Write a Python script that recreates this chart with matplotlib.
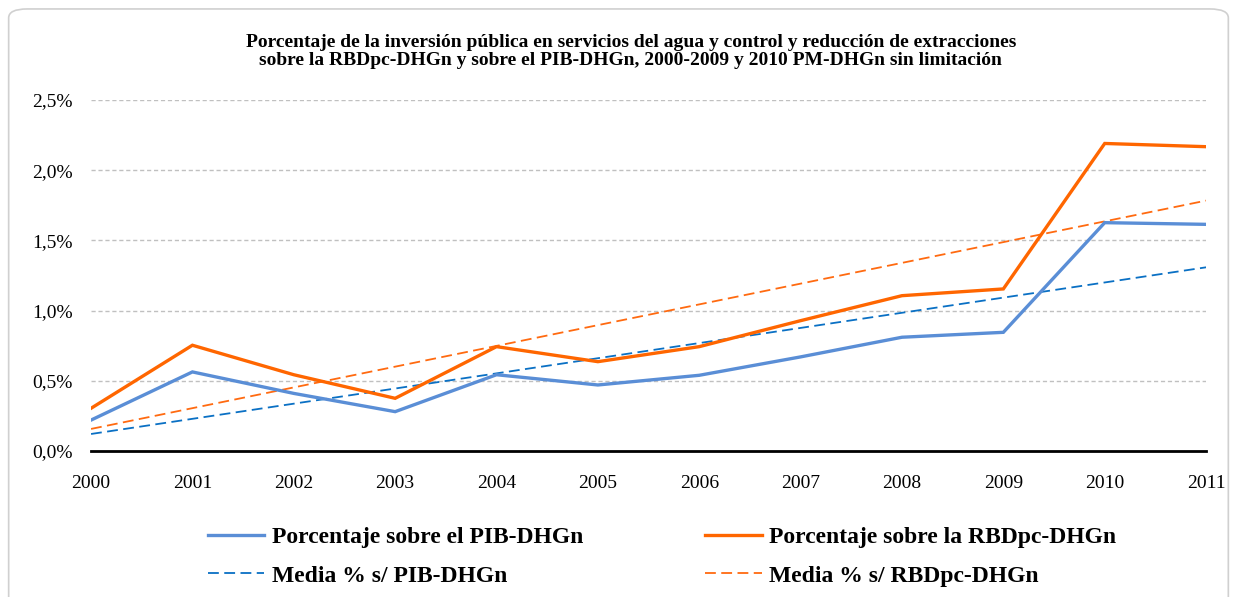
#Public investment in water services, share of RBDpc-DHGn and PIB-DHGn

import matplotlib.pyplot as plt
from matplotlib.patches import FancyBboxPatch
from matplotlib.lines import Line2D

plt.rcParams['font.family'] = ['Liberation Serif', 'DejaVu Serif']

#Data (percent)
years = [2000, 2001, 2002, 2003, 2004, 2005, 2006, 2007, 2008, 2009, 2010, 2011]
pctPib = [0.22, 0.563, 0.41, 0.28, 0.543, 0.47, 0.539, 0.67, 0.81, 0.845, 1.626, 1.614]
pctRbd = [0.304, 0.753, 0.543, 0.375, 0.743, 0.636, 0.743, 0.928, 1.106, 1.154, 2.19, 2.167]

#Trend lines ("Media"), start and end values
trendYears = [2000, 2011]
mediaPib = [0.121, 1.308]
mediaRbd = [0.157, 1.783]

yTicks = [0.0, 0.5, 1.0, 1.5, 2.0, 2.5]
yTickLabels = ["0,0%", "0,5%", "1,0%", "1,5%", "2,0%", "2,5%"]

blue = "#5A8ED6"
orange = "#FF6600"
blueDash = "#0A70C4"
orangeDash = "#FF6A10"

fig = plt.figure(figsize=(12.37, 5.97), dpi=100)

#Rounded outer frame
frame = FancyBboxPatch((0.007, -0.02), 0.986, 1.005, boxstyle="round,pad=0,rounding_size=0.015",
                       transform=fig.transFigure, facecolor="white", edgecolor="#D0D0D0", lw=1.2,
                       zorder=-1)
fig.patches.append(frame)

ax = fig.add_axes([0.0736, 0.2446, 0.9014, 0.588])
ax.set_facecolor("none")

ax.plot(years, pctPib, color=blue, lw=2.4, solid_joinstyle="miter", zorder=3)
ax.plot(years, pctRbd, color=orange, lw=2.4, solid_joinstyle="miter", zorder=3)
ax.plot(trendYears, mediaPib, color=blueDash, lw=1.3, dashes=(6, 3), zorder=2)
ax.plot(trendYears, mediaRbd, color=orangeDash, lw=1.3, dashes=(6, 3), zorder=2)

ax.set_xlim(2000, 2011)
ax.set_ylim(0, 2.5)
ax.set_xticks(years)
ax.set_xticklabels([str(y) for y in years], fontsize=14)
ax.set_yticks(yTicks)
ax.set_yticklabels(yTickLabels, fontsize=14)
ax.tick_params(axis='x', length=0, pad=17)
ax.tick_params(axis='y', length=0, pad=13)

for y in yTicks[1:]:
    ax.axhline(y, color="#C0C0C0", lw=1, dashes=(3, 2), zorder=1)

for side in ["top", "right", "left"]:
    ax.spines[side].set_visible(False)
ax.spines["bottom"].set_linewidth(2)
ax.spines["bottom"].set_color("black")

fig.text(0.51, 0.914, "Porcentaje de la inversión pública en servicios del agua y control y reducción de extracciones\n"
         "sobre la RBDpc-DHGn y sobre el PIB-DHGn, 2000-2009 y 2010 PM-DHGn sin limitación",
         ha="center", va="center", fontsize=14, fontweight="bold", linespacing=1.1)

#Legend, two columns placed by hand
h1 = [Line2D([], [], color=blue, lw=2.4), Line2D([], [], color=blueDash, lw=1.3, dashes=(6, 3))]
h2 = [Line2D([], [], color=orange, lw=2.4), Line2D([], [], color=orangeDash, lw=1.3, dashes=(6, 3))]
legProps = dict(loc="upper left", frameon=False, handlelength=2.4, handletextpad=0.3,
                labelspacing=0.72, borderpad=0, borderaxespad=0,
                prop={"weight": "bold", "size": 17})
fig.legend(h1, ["Porcentaje sobre el PIB-DHGn", "Media % s/ PIB-DHGn"],
           bbox_to_anchor=(0.168, 0.118), **legProps)
fig.legend(h2, ["Porcentaje sobre la RBDpc-DHGn", "Media % s/ RBDpc-DHGn"],
           bbox_to_anchor=(0.570, 0.118), **legProps)

fig.savefig("out.png", dpi=100)
